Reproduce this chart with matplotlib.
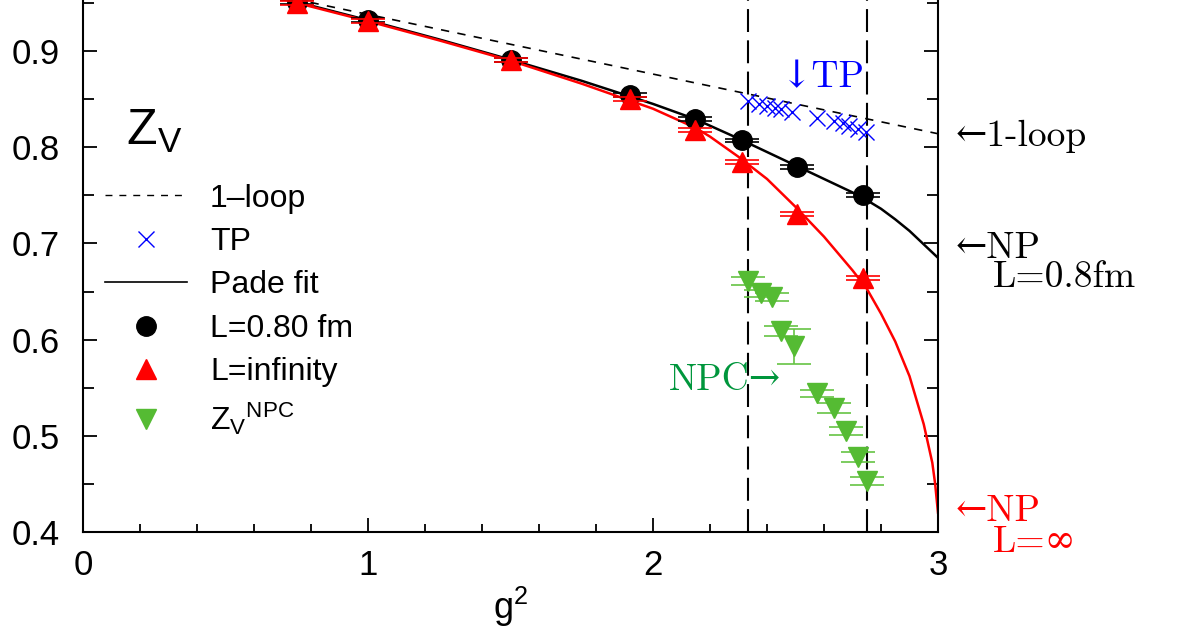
import numpy as np
import matplotlib.pyplot as plt
from matplotlib.lines import Line2D
from matplotlib.legend_handler import HandlerLine2D

plt.rcParams['font.family'] = ['Liberation Sans', 'DejaVu Sans']
SERIF = ['cmr10', 'DejaVu Serif']

#######################################
## Data
#######################################
# one-loop perturbative line
oneloop_g2 = [0.0, 3.0]
oneloop_z = [1.0, 0.814]

# non-perturbative Z_V, box L=0.80 fm
g2_L08 = [0.75, 1.0, 1.5, 1.92, 2.146, 2.311, 2.504, 2.736]
z_L08 = [0.951, 0.932, 0.891, 0.854, 0.829, 0.807, 0.779, 0.750]
err_L08 = [0.002, 0.002, 0.002, 0.002, 0.002, 0.002, 0.002, 0.002]

# extrapolated to infinite volume
g2_Linf = [0.75, 1.0, 1.5, 1.92, 2.146, 2.311, 2.504, 2.736]
z_Linf = [0.950, 0.931, 0.891, 0.850, 0.818, 0.785, 0.731, 0.664]
err_Linf = [0.002, 0.002, 0.002, 0.002, 0.002, 0.002, 0.002, 0.002]

# Pade fits
pade_g2_L08 = [0.70, 0.75, 1.0, 1.25, 1.5, 1.75, 2.0, 2.15, 2.3, 2.4, 2.5, 2.6, 2.7, 2.75,
               2.8, 2.85, 2.9, 2.95, 3.0]
pade_z_L08 = [0.955, 0.951, 0.932, 0.912, 0.891, 0.869, 0.845, 0.829, 0.809, 0.795, 0.781, 0.767, 0.753, 0.745,
              0.736, 0.725, 0.713, 0.699, 0.685]
pade_g2_Linf = [0.70, 0.75, 1.0, 1.25, 1.5, 1.75, 2.0, 2.15, 2.2, 2.3, 2.4, 2.5, 2.6, 2.7, 2.75,
                2.8, 2.85, 2.9, 2.95, 2.98, 2.99, 3.0]
pade_z_Linf = [0.954, 0.950, 0.931, 0.911, 0.890, 0.866, 0.840, 0.820, 0.811, 0.790, 0.767, 0.738, 0.707,
               0.672, 0.653, 0.627, 0.598, 0.562, 0.512, 0.472, 0.450, 0.420]

# tadpole improved PT
tp_g2 = [2.333, 2.372, 2.401, 2.427, 2.448, 2.489, 2.577, 2.635, 2.665, 2.688, 2.718, 2.747]
tp_z = [0.848, 0.845, 0.843, 0.841, 0.840, 0.837, 0.830, 0.827, 0.825, 0.822, 0.819, 0.816]

# Z_V^NPC
g2_npc = [2.335, 2.378, 2.419, 2.448, 2.493, 2.577, 2.634, 2.677, 2.718, 2.750]
z_npc = [0.661, 0.648, 0.644, 0.609, 0.593, 0.544, 0.529, 0.505, 0.478, 0.453]
err_npc = [0.004, 0.004, 0.004, 0.005, 0.018, 0.004, 0.005, 0.004, 0.005, 0.004]

vlines_g2 = [2.335, 2.75]

#######################################
## Plot
#######################################
fig = plt.figure(figsize=(11.78, 6.34), dpi=100)
ax = fig.add_axes([83/1178, 102/634, 855/1178, 532/634])

ax.plot(oneloop_g2, oneloop_z, color='k', ls=(0, (5, 5)), lw=1.2)
for xv in vlines_g2:
    ax.axvline(xv, color='k', ls=(0, (11, 4)), lw=1.5)

ax.plot(pade_g2_L08, pade_z_L08, color='k', lw=1.8)
ax.plot(pade_g2_Linf, pade_z_Linf, color='red', lw=1.8)

ax.plot(tp_g2, tp_z, 'x', color='blue', ms=11, mew=1.0)

ax.errorbar(g2_L08, z_L08, yerr=err_L08, fmt='o', color='k', ms=14,
            capsize=12, elinewidth=1.2, capthick=1.2, zorder=4)
ax.errorbar(g2_Linf, z_Linf, yerr=err_Linf, fmt='^', color='red', ms=15,
            capsize=12, elinewidth=1.2, capthick=1.2, zorder=5)
ax.errorbar(g2_npc, z_npc, yerr=err_npc, fmt='v', color='#55bb33', ecolor='#66c444',
            ms=15, capsize=12, elinewidth=1.2, capthick=1.2, zorder=5)

ax.set_xlim(0, 3)
ax.set_ylim(0.4, 0.4 + 532/962)
ax.set_xticks([0, 1, 2, 3])
ax.set_yticks([0.4, 0.5, 0.6, 0.7, 0.8, 0.9])
ax.set_xticks(np.arange(0, 3.01, 0.2), minor=True)
ax.set_yticks(np.arange(0.4, 0.951, 0.05), minor=True)
ax.tick_params(which='both', direction='in', right=True, top=False, width=1.3, labelsize=25)
ax.tick_params(which='major', length=10)
ax.tick_params(which='minor', length=6)
ax.tick_params(axis='y', which='minor', right=True, length=8)
ax.tick_params(axis='x', pad=12)
ax.tick_params(axis='y', pad=17)
ax.spines['top'].set_visible(False)
for s in ['left', 'right', 'bottom']:
    ax.spines[s].set_linewidth(1.5)

ax.set_xlabel(r'$\mathregular{g^2}$', fontsize=26, labelpad=2)
ax.text(0.05, 0.727, r'$\mathregular{Z_V}$', transform=ax.transAxes, fontsize=36)

# annotations
fs_ann = 27
ax.text(2.448, 0.872, '\u2193TP', color='blue', fontsize=fs_ann, family=SERIF, va='center')
ax.text(2.448, 0.558, 'NPC\u2192', color='#00963c', fontsize=fs_ann, family=SERIF, va='center', ha='right')
ax.text(3.063, 0.811, '\u21901-loop', fontsize=fs_ann, family=SERIF, va='center', clip_on=False)
ax.text(3.063, 0.695, '\u2190NP', fontsize=fs_ann, family=SERIF, va='center', clip_on=False)
ax.text(3.193, 0.665, 'L=0.8fm', fontsize=fs_ann, family=SERIF, va='center', clip_on=False)
ax.text(3.063, 0.421, '\u2190NP', color='red', fontsize=fs_ann, family=SERIF, va='center', clip_on=False)
ax.text(3.193, 0.389, 'L=\u221e', color='red', fontsize=fs_ann, family=SERIF, va='center', clip_on=False)


# legend with markers sitting at the right end of the key
class RightMarker(HandlerLine2D):
    def get_xdata(self, legend, xdescent, ydescent, width, height, fontsize):
        xdata, xm = super().get_xdata(legend, xdescent, ydescent, width, height, fontsize)
        return xdata, [-xdescent + width]


h_loop = Line2D([], [], color='k', ls=(0, (5, 5)), lw=1.0)
h_tp = Line2D([], [], ls='none', marker='x', color='blue', ms=11, mew=1.0)
h_pade = Line2D([], [], color='k', lw=1.2)
h_L08 = Line2D([], [], ls='none', marker='o', color='k', ms=14)
h_Linf = Line2D([], [], ls='none', marker='^', color='red', ms=15)
h_npc = Line2D([], [], ls='none', marker='v', color='#55bb33', ms=15)
handles = [h_loop, h_tp, h_pade, h_L08, h_Linf, h_npc]
labels = ['1\u2013loop', 'TP', 'Pade fit', 'L=0.80 fm', 'L=infinity', r'$\mathregular{Z_V{}^{NPC}}$']
ax.legend(handles, labels, loc='upper left', bbox_to_anchor=(0.0257, 0.655), frameon=False,
          fontsize=23, borderpad=0, borderaxespad=0, handlelength=2.57, handletextpad=0.72,
          labelspacing=0.42, numpoints=1,
          handler_map={h: RightMarker() for h in [h_tp, h_L08, h_Linf, h_npc]})

fig.savefig('out.png', dpi=100)
